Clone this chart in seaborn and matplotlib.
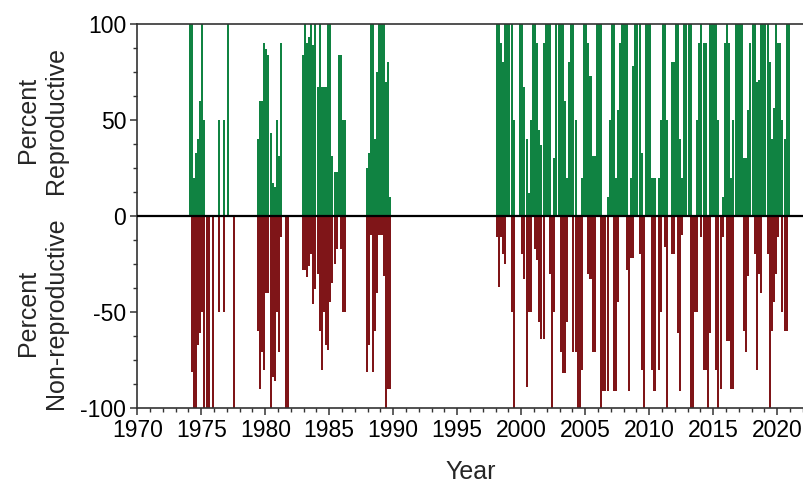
import numpy as np
import pandas as pd
import matplotlib
matplotlib.use("Agg")
import matplotlib.pyplot as plt
from matplotlib.ticker import MultipleLocator
import seaborn as sns

# ---------------- data (bimonthly bins, percent of samples) ----------------
# each list holds consecutive 2-month bins starting at the given year
start_1974 = 1974.0
rep_1974 = [100, 100, 20, 33, 40, 60,
            100, 50, 0, 0, 0, 0,
            0, 0, 50, 0, 50, 0,
            100, 0, 0, 0, 0, 0]
non_1974 = [0, 81, 100, 100, 67, 61,
            50, 100, 100, 100, 0, 100,
            0, 0, 50, 0, 50, 0,
            0, 0, 0, 100, 0, 0]

start_1979 = 1979 + 2 / 6
rep_1979 = [40, 60, 60, 90,
            87, 84, 43, 17, 15, 50,
            31, 90, 0, 0, 0, 0]
non_1979 = [60, 90, 71, 80,
            40, 40, 100, 84, 86, 50,
            71, 11, 0, 100, 100, 0]

start_1983 = 1982 + 5 / 6
rep_1983 = [84,
            100, 90, 93, 100, 89, 100,
            67, 100, 67, 67, 67, 100,
            100, 31, 23, 23, 84, 84,
            50, 50]
non_1983 = [28,
            28, 32, 26, 20, 46, 38,
            30, 60, 80, 50, 67, 70,
            45, 35, 25, 17, 0, 17,
            50, 50]

start_1988 = 1987 + 5 / 6
rep_1988 = [25,
            33, 100, 100, 40, 75, 100,
            100, 100, 70, 80, 10]
non_1988 = [81,
            67, 10, 81, 60, 40, 10,
            10, 31, 100, 90, 90]

start_1998 = 1998.0
rep_1998 = [100, 100, 90, 80, 100, 100,   # 1998
            100, 100, 50, 0, 0, 100,      # 1999
            100, 67, 40, 12, 50, 100,     # 2000
            100, 90, 45, 37, 90, 100,     # 2001
            100, 100, 0, 30, 100, 100,    # 2002
            100, 100, 60, 20, 80, 100,    # 2003
            100, 50, 0, 0, 20, 100,       # 2004
            100, 90, 73, 31, 31, 100,     # 2005
            100, 100, 0, 0, 10, 50,       # 2006
            100, 100, 20, 55, 90, 100,    # 2007
            100, 100, 0, 20, 78, 100,     # 2008
            100, 100, 33, 0, 100, 100]    # 2009
non_1998 = [11, 37, 11, 20, 25, 0,
            0, 50, 100, 0, 0, 0,
            20, 33, 89, 50, 50, 0,
            17, 23, 55, 64, 64, 0,
            0, 30, 100, 50, 0, 0,
            71, 82, 82, 55, 0, 0,
            71, 71, 100, 100, 80, 0,
            0, 30, 33, 71, 71, 0,
            0, 100, 91, 91, 91, 0,
            0, 91, 91, 45, 0, 0,
            0, 28, 91, 22, 22, 0,
            0, 20, 80, 100, 0, 0]

start_2010 = 2010.0
rep_2010 = [100, 20, 20, 0, 20, 50,       # 2010
            100, 100, 50, 0, 80, 80,      # 2011
            100, 100, 40, 20, 100, 100,   # 2012
            100, 100, 0, 0, 50, 90,       # 2013
            100, 90, 90, 0, 100, 100,     # 2014
            100, 100, 50, 0, 10, 90,      # 2015
            100, 90, 20, 50, 100, 100,    # 2016
            100, 100, 30, 30, 55, 90,     # 2017
            100, 100, 70, 71, 100, 100,   # 2018
            100, 100, 80, 40, 56, 100,    # 2019
            90, 90, 50, 40, 100, 100]     # 2020
non_2010 = [0, 80, 91, 0, 80, 50,
            0, 16, 100, 0, 20, 20,
            0, 61, 91, 10, 0, 0,
            0, 100, 100, 50, 50, 0,
            11, 80, 80, 100, 61, 0,
            0, 80, 100, 90, 11, 0,
            65, 65, 90, 90, 0, 0,
            0, 0, 60, 71, 31, 0,
            0, 20, 80, 30, 40, 0,
            0, 20, 100, 60, 45, 30,
            11, 0, 50, 60, 60, 0]

year_ticks = [1970, 1975, 1980, 1985, 1990, 1995, 2000, 2005, 2010, 2015, 2020]
pct_ticks = [-100, -50, 0, 50, 100]

GREEN = "#108342"
RED = "#7f1518"
BIN = 1 / 6

# ---------------- build table ----------------
frames = []
for start, rep, non in [(start_1974, rep_1974, non_1974),
                        (start_1979, rep_1979, non_1979),
                        (start_1983, rep_1983, non_1983),
                        (start_1988, rep_1988, non_1988),
                        (start_1998, rep_1998, non_1998),
                        (start_2010, rep_2010, non_2010)]:
    n = len(rep)
    frames.append(pd.DataFrame({
        "date": np.round(start + (np.arange(n) + 0.5) * BIN, 4),
        "reproductive": rep,
        "nonrep": -np.asarray(non, dtype=float),
    }))
df = pd.concat(frames, ignore_index=True)

# ---------------- plot ----------------
sns.set_theme(style="ticks")
plt.rcParams["font.family"] = ["Liberation Sans", "DejaVu Sans"]

W, H = 804, 486
fig = plt.figure(figsize=(W / 100, H / 100), dpi=100)
ax = fig.add_axes([137.3 / W, 78 / H, 1 - 137.3 / W, 384 / H])

common = dict(native_scale=True, width=0.95, saturation=1, errorbar=None,
              linewidth=0, edgecolor="none", ax=ax)
sns.barplot(data=df, x="date", y="reproductive", color=GREEN, **common)
sns.barplot(data=df, x="date", y="nonrep", color=RED, **common)

ax.axhline(0, color="black", lw=1.6, zorder=5)

ax.set_xlim(1970, 2022.1)
ax.set_ylim(-100, 100)
ax.set_xticks(year_ticks)
ax.set_xticklabels([str(y) for y in year_ticks])
ax.xaxis.set_minor_locator(MultipleLocator(1))
ax.set_yticks(pct_ticks)
ax.set_yticklabels([str(v) for v in pct_ticks])
ax.yaxis.set_minor_locator(MultipleLocator(12.5))

for side in ["left", "bottom", "top"]:
    ax.spines[side].set_color("#333333")
    ax.spines[side].set_linewidth(1.2)
ax.spines["right"].set_visible(False)

ax.tick_params(axis="both", which="major", length=5, width=1.1, color="#333333",
               labelsize=16.5, labelcolor="black", pad=3)
ax.tick_params(axis="both", which="minor", length=3, width=1.0, color="#333333")
ax.tick_params(axis="x", which="both", top=False)

ax.set_xlabel("Year", fontsize=18, labelpad=13)
ax.set_ylabel("")

fig.text(42 / W, 1 - 120 / H, "Percent\nReproductive", rotation=90,
         ha="center", va="center", multialignment="center", fontsize=18)
fig.text(42 / W, 1 - 313 / H, "Percent\nNon-reproductive", rotation=90,
         ha="center", va="center", multialignment="center", fontsize=18)

fig.savefig("out.png", dpi=100)
